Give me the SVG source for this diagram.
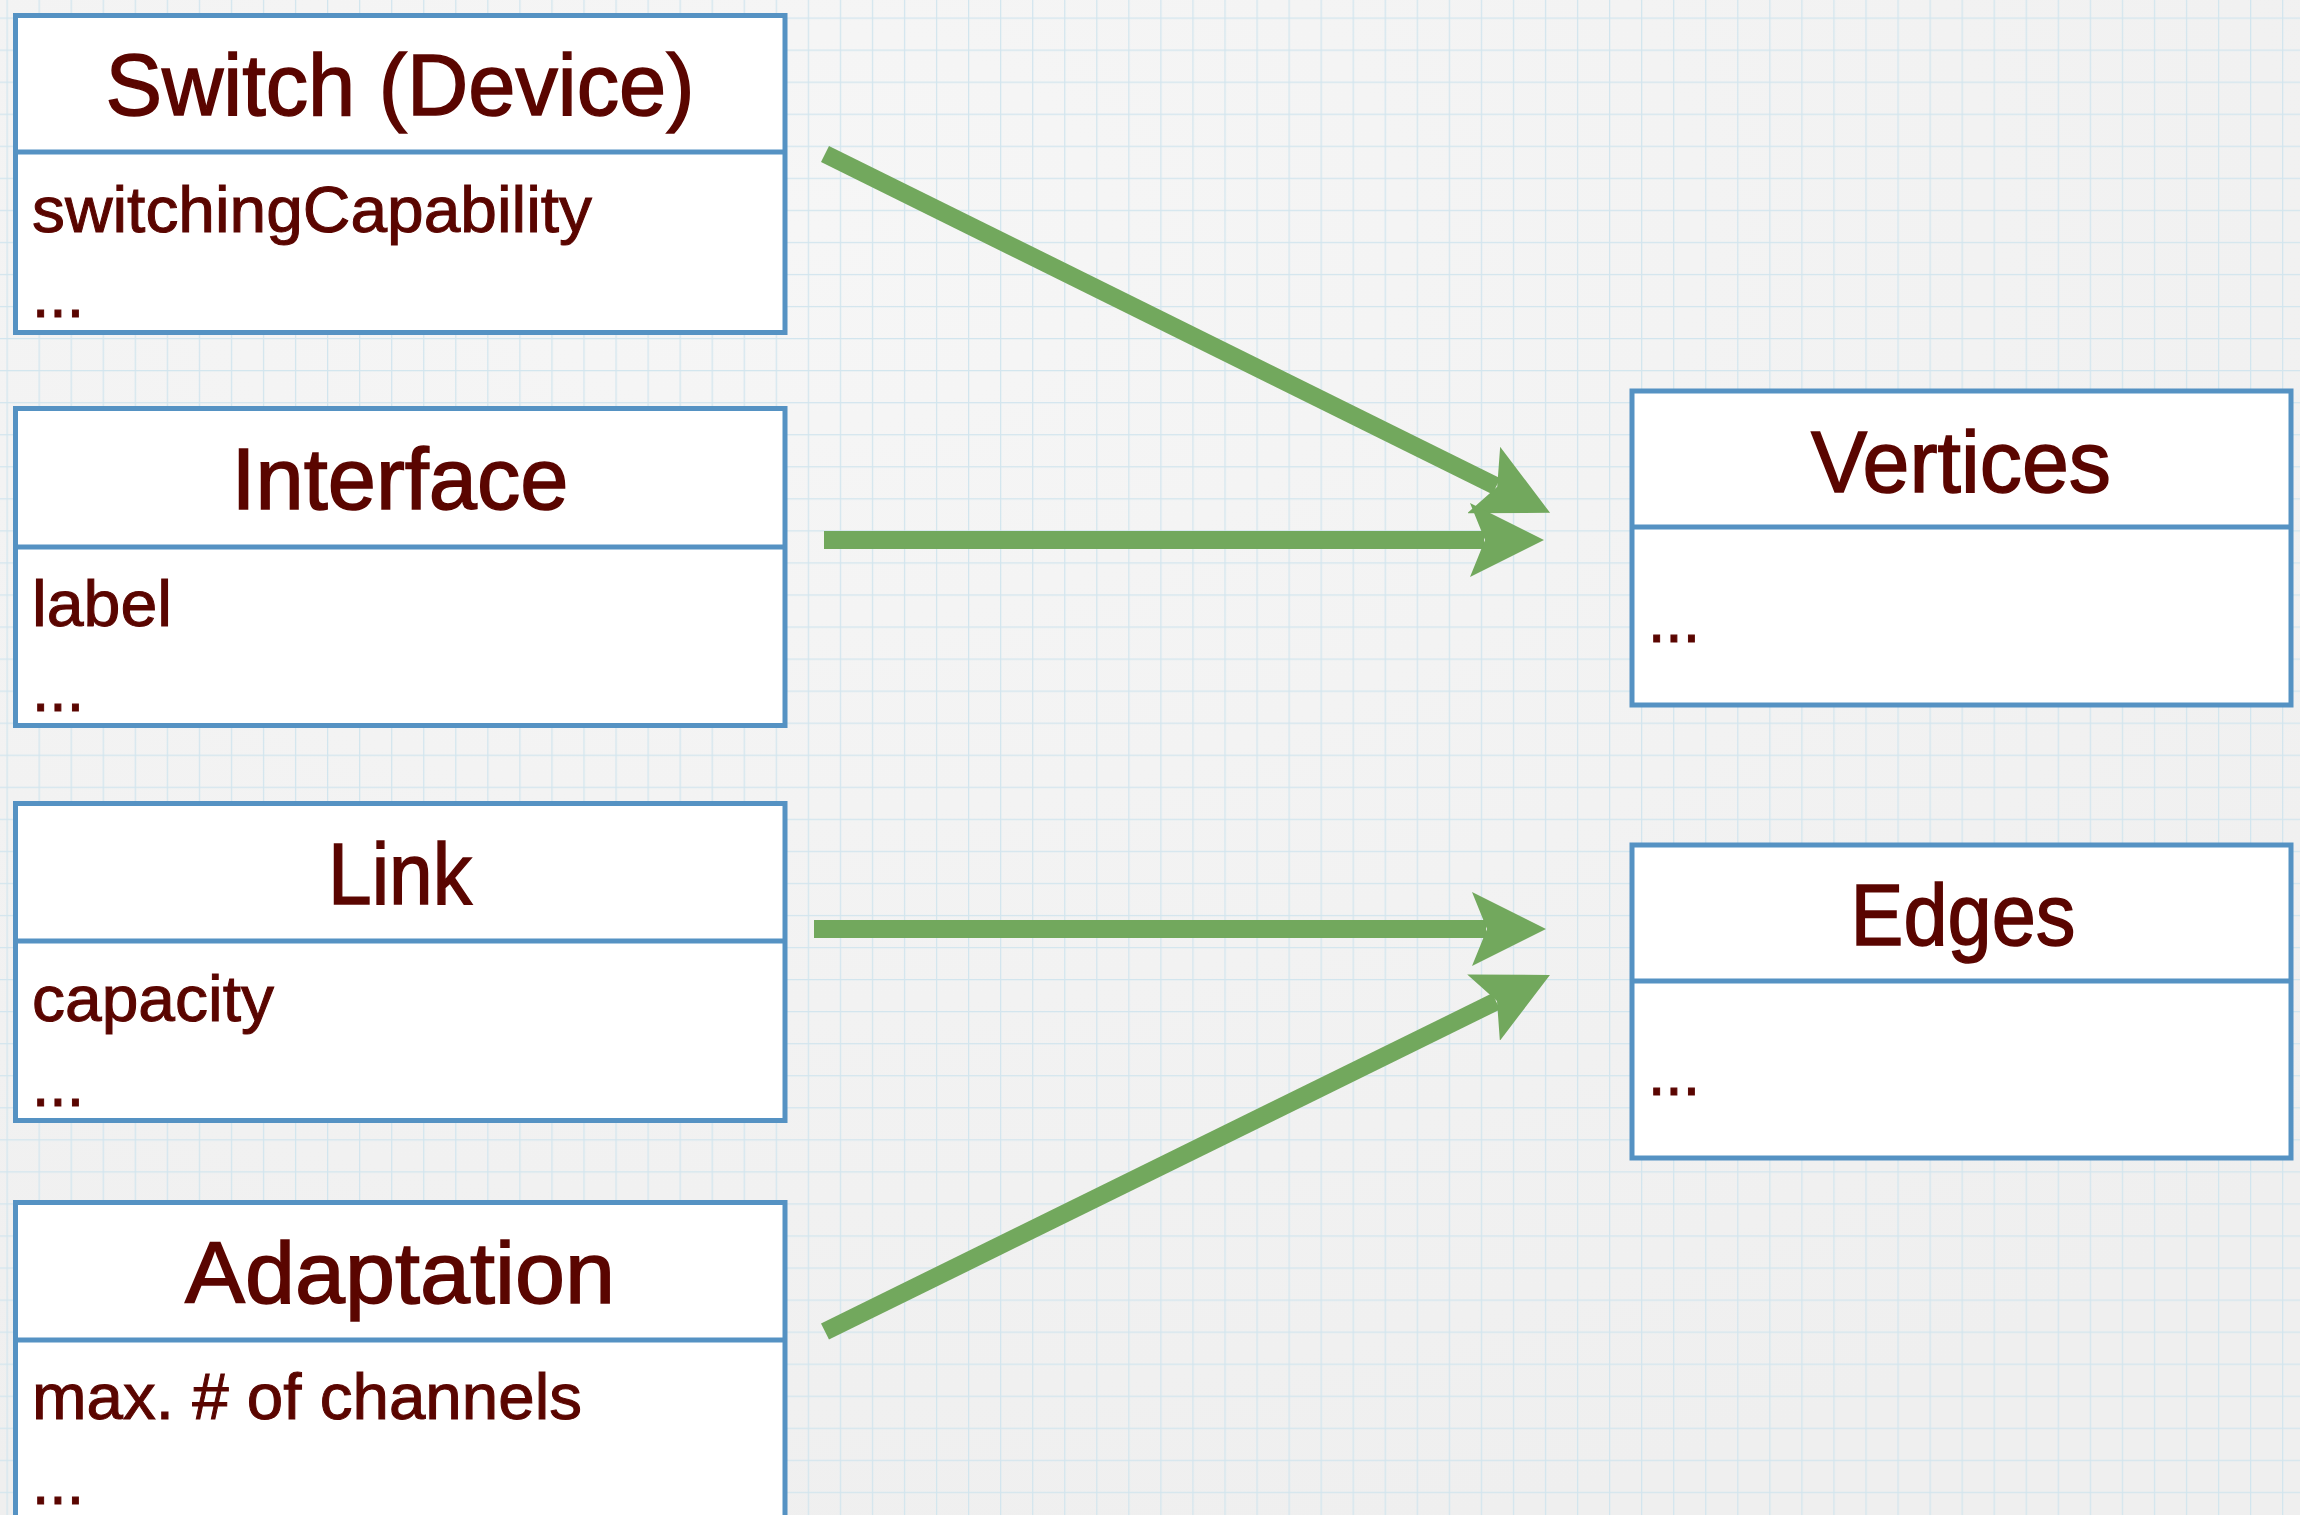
<svg xmlns="http://www.w3.org/2000/svg" width="2300" height="1515" viewBox="0 0 2300 1515">
  <defs>
    <pattern id="grid" x="6.5" y="17.5" width="32.05" height="32.05" patternUnits="userSpaceOnUse">
      <rect x="-1.25" y="0" width="2.5" height="32.05" fill="#d2e5ee"/>
      <rect x="0" y="-1.25" width="32.05" height="2.5" fill="#d2e5ee"/>
    </pattern>
    <radialGradient id="shade" cx="0.35" cy="0.15" r="0.9">
      <stop offset="0" stop-color="#f6f6f6"/>
      <stop offset="1" stop-color="#efefef"/>
    </radialGradient>
    <marker id="head" viewBox="0 0 74 74" refX="14" refY="37" markerWidth="74" markerHeight="74" markerUnits="userSpaceOnUse" orient="auto">
      <path d="M0,0 L74,37 L0,74 L15,37 Z" fill="#72a85d"/>
    </marker>
    <style>
      .box { fill: #ffffff; stroke: #5592c3; stroke-width: 5; }
      .div { stroke: #5592c3; stroke-width: 5; }
      .title { font-family: "Liberation Sans", Arial, sans-serif; font-size: 88px; fill: #5a0500; stroke: #5a0500; stroke-width: 1.5; text-anchor: middle; }
      .attr { font-family: "Liberation Sans", Arial, sans-serif; font-size: 64px; fill: #5a0500; stroke: #5a0500; stroke-width: 1; }
      .conn { stroke: #72a85d; stroke-width: 18; fill: none; stroke-linecap: butt; }
    </style>
  </defs>

  <rect width="2300" height="1515" fill="url(#shade)"/>
  <rect width="2300" height="1515" fill="url(#grid)"/>

  <g id="node-switch">
    <rect class="box" x="15.5" y="15.5" width="769.5" height="317"/>
    <line class="div" x1="15.5" y1="152" x2="785" y2="152"/>
    <text class="title" x="400" y="115" textLength="589" lengthAdjust="spacingAndGlyphs">Switch (Device)</text>
    <text class="attr" x="32" y="232" textLength="560" lengthAdjust="spacingAndGlyphs">switchingCapability</text>
    <text class="attr" x="32" y="317" textLength="52" lengthAdjust="spacingAndGlyphs">...</text>
  </g>

  <g id="node-interface">
    <rect class="box" x="15.5" y="408.5" width="769.5" height="317"/>
    <line class="div" x1="15.5" y1="547" x2="785" y2="547"/>
    <text class="title" x="400" y="509" textLength="337" lengthAdjust="spacingAndGlyphs">Interface</text>
    <text class="attr" x="32" y="626" textLength="140" lengthAdjust="spacingAndGlyphs">label</text>
    <text class="attr" x="32" y="711" textLength="52" lengthAdjust="spacingAndGlyphs">...</text>
  </g>

  <g id="node-link">
    <rect class="box" x="15.5" y="803.5" width="769.5" height="317"/>
    <line class="div" x1="15.5" y1="941" x2="785" y2="941"/>
    <text class="title" x="400" y="904" textLength="144" lengthAdjust="spacingAndGlyphs">Link</text>
    <text class="attr" x="32" y="1021" textLength="242" lengthAdjust="spacingAndGlyphs">capacity</text>
    <text class="attr" x="32" y="1106" textLength="52" lengthAdjust="spacingAndGlyphs">...</text>
  </g>

  <g id="node-adaptation">
    <rect class="box" x="15.5" y="1202.5" width="769.5" height="317"/>
    <line class="div" x1="15.5" y1="1340" x2="785" y2="1340"/>
    <text class="title" x="400" y="1303" textLength="430" lengthAdjust="spacingAndGlyphs">Adaptation</text>
    <text class="attr" x="32" y="1419" textLength="550" lengthAdjust="spacingAndGlyphs">max. # of channels</text>
    <text class="attr" x="32" y="1504" textLength="52" lengthAdjust="spacingAndGlyphs">...</text>
  </g>

  <g id="node-vertices">
    <rect class="box" x="1632" y="391" width="659" height="314"/>
    <line class="div" x1="1632" y1="527" x2="2291" y2="527"/>
    <text class="title" x="1961" y="492" textLength="300" lengthAdjust="spacingAndGlyphs">Vertices</text>
    <text class="attr" x="1648" y="642" textLength="52" lengthAdjust="spacingAndGlyphs">...</text>
  </g>

  <g id="node-edges">
    <rect class="box" x="1632" y="845" width="659" height="313"/>
    <line class="div" x1="1632" y1="981" x2="2291" y2="981"/>
    <text class="title" x="1963" y="945" textLength="225" lengthAdjust="spacingAndGlyphs">Edges</text>
    <text class="attr" x="1648" y="1095" textLength="52" lengthAdjust="spacingAndGlyphs">...</text>
  </g>

  <g id="connectors">
    <line class="conn" x1="825" y1="154" x2="1496.3" y2="486.2" marker-end="url(#head)"/>
    <line class="conn" x1="824" y1="540" x2="1484" y2="540" marker-end="url(#head)"/>
    <line class="conn" x1="814" y1="929" x2="1486" y2="929" marker-end="url(#head)"/>
    <line class="conn" x1="825" y1="1331.5" x2="1496.1" y2="1001.4" marker-end="url(#head)"/>
  </g>
</svg>
